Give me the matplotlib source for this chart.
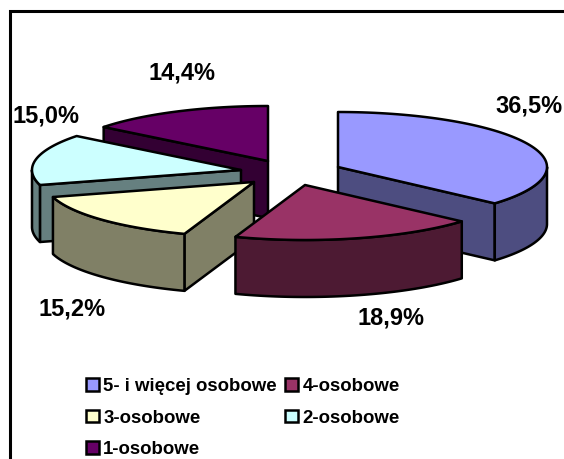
import numpy as np
import matplotlib.pyplot as plt
from matplotlib.patches import Patch

plt.rcParams['font.family'] = ['Liberation Sans', 'DejaVu Sans']
plt.rcParams['font.weight'] = 'bold'

categories = ["5- i więcej osobowe", "4-osobowe", "3-osobowe", "2-osobowe", "1-osobowe"]
values = [36.5, 18.9, 15.2, 15.0, 14.4]
labels = ["36,5%", "18,9%", "15,2%", "15,0%", "14,4%"]
top_colors = ["#9999FF", "#993366", "#FFFFCC", "#CCFFFF", "#660066"]
side_colors = ["#4D4D80", "#4D1A33", "#808066", "#668080", "#330033"]

# slice apex in pixels, the pie is exploded
apex = [(338, 167), (305, 185), (254, 182), (241, 170), (268, 161)]
label_pos = [(529, 106), (391, 318), (72, 309), (46, 116), (182, 73)]
# which cut edge of each slice shows a face to the viewer
cut_face = [-1, None, 0, 0, 0]
draw_order = [4, 3, 0, 2, 1]
rx, ry, depth = 209, 55, 57

fig = plt.figure(figsize=(5.64, 4.59), dpi=100)
ax = fig.add_axes([0, 0, 1, 1])
ax.set_xlim(0, 564)
ax.set_ylim(459, 0)
ax.axis('off')

# chart frame, cropped at right and bottom
ax.plot([10, 10, 564], [459, 11, 11], color='black', lw=2.2, solid_joinstyle='miter')


def arc(cx, cy, a0, a1):
    t = np.radians(np.linspace(a0, a1, 80))
    return cx + rx * np.sin(t), cy - ry * np.cos(t)


edges = np.cumsum([0] + values) / sum(values) * 360
for i in draw_order:
    cx, cy = apex[i]
    a0, a1 = edges[i], edges[i + 1]
    xs, ys = arc(cx, cy, a0, a1)
    kw = dict(edgecolor='black', lw=1.8, joinstyle='round')

    if cut_face[i] is not None:
        x_end, y_end = xs[cut_face[i]], ys[cut_face[i]]
        ax.fill([cx, x_end, x_end, cx], [cy, y_end, y_end + depth, cy + depth],
                facecolor=side_colors[i], **kw)

    # outer rim, only the front half of the ellipse shows
    lo, hi = max(a0, 90), min(a1, 270)
    if lo < hi:
        rim_x, rim_y = arc(cx, cy, lo, hi)
        ax.fill(np.r_[rim_x, rim_x[::-1]], np.r_[rim_y, rim_y[::-1] + depth],
                facecolor=side_colors[i], **kw)

    ax.fill(np.r_[cx, xs], np.r_[cy, ys], facecolor=top_colors[i], **kw)

for txt, (x, y) in zip(labels, label_pos):
    ax.text(x, y, txt, fontsize=17, ha='center', va='center', color='black')

handles = [Patch(facecolor=c, edgecolor='black', lw=1.8, label=n)
           for c, n in zip(top_colors, categories)]
order = [0, 2, 4, 1, 3]
ax.legend([handles[i] for i in order], [categories[i] for i in order], ncols=2,
          loc='upper left', bbox_to_anchor=(86 / 564, 1 - 378 / 459), frameon=False,
          fontsize=13.4, handlelength=0.68, handleheight=0.68, handletextpad=0.25,
          labelspacing=0.78, columnspacing=0.45, borderpad=0, borderaxespad=0)

fig.savefig('out.png', dpi=100)
